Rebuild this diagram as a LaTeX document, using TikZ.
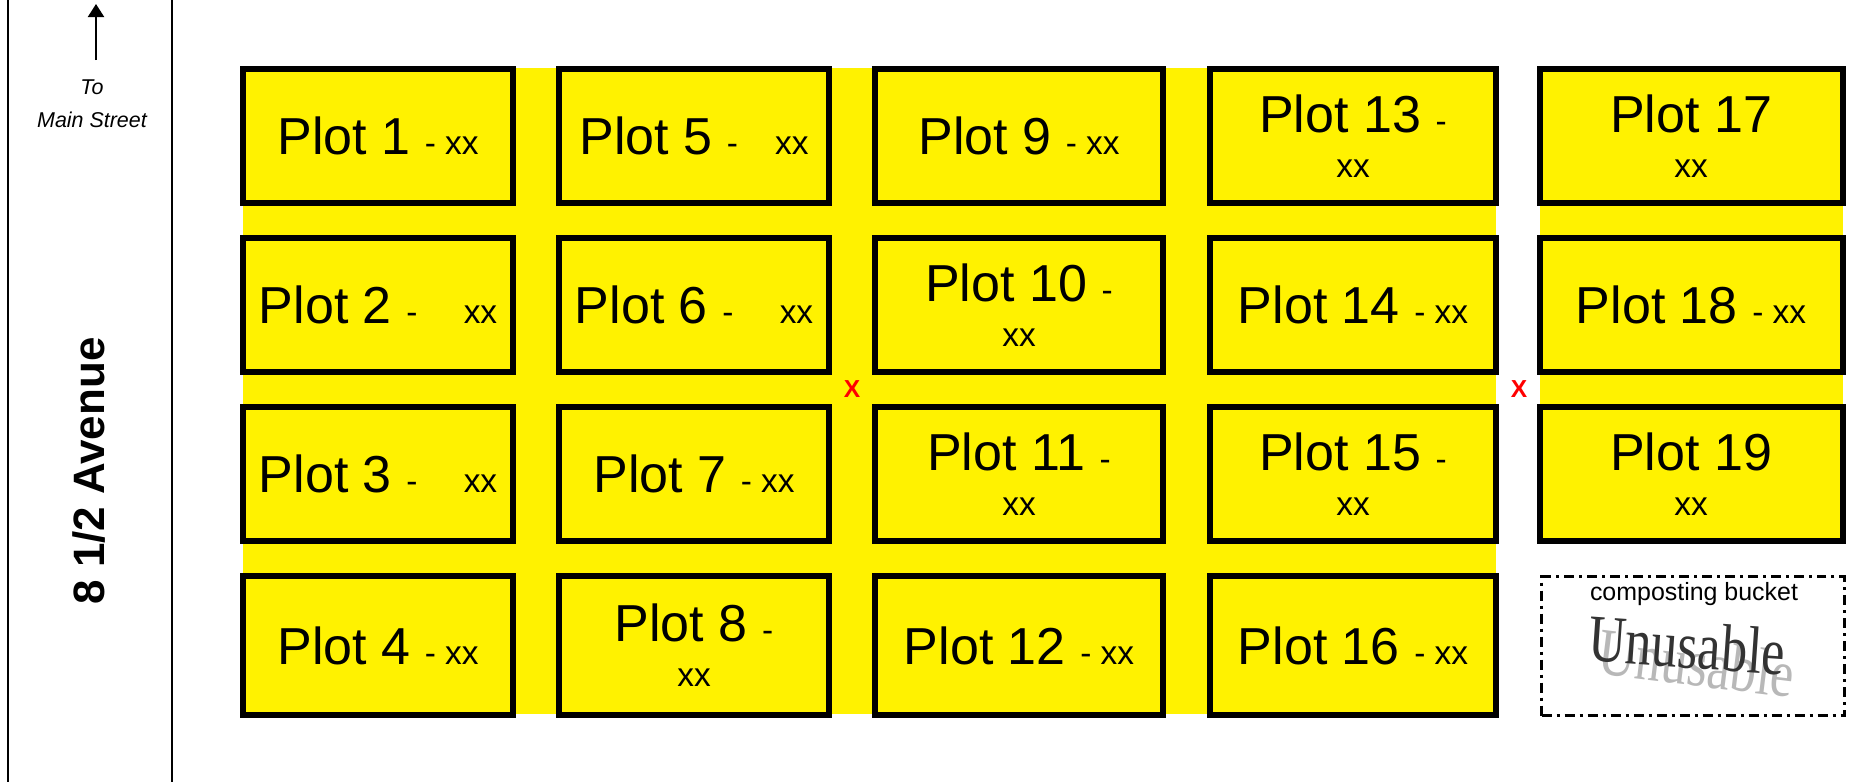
\documentclass[tikz,border=0pt]{standalone}
\usepackage{fontspec}
\setmainfont{Liberation Sans}
\newfontfamily\wordart[FakeStretch=0.78]{Liberation Serif}
\usetikzlibrary{arrows.meta,positioning}
\newcommand{\bigtxt}{\fontsize{29.6pt}{25.6pt}\selectfont}
\newcommand{\smtxt}{\fontsize{19pt}{22pt}\selectfont}

\begin{document}
\begin{tikzpicture}[x=0.02cm, y=-0.02cm, node distance=0.58cm,
plotbox/.style={rectangle,draw,line width=0.12cm,fill=yellow,inner sep=0pt,minimum height=2.68cm,align=center,font=\bigtxt},
wide/.style={minimum width=#1},
street/.style={line width=0.04cm},
redx/.style={text=red,font=\bfseries\fontsize{14pt}{14pt}\selectfont},
wordtxt/.style={font=\wordart\fontsize{38pt}{38pt}\selectfont}]

\useasboundingbox (0,0) rectangle (1851,782);

% yellow ground under the plots
\fill[yellow] (243,68) rectangle (1496,714);
\fill[yellow] (1540,68) rectangle (1843,540);

\draw[street] (8,0) -- (8,782);
\draw[street] (172,0) -- (172,782);
\node[font=\bfseries\fontsize{25pt}{25pt}\selectfont, rotate=90] (ave) at (89,471) {8 1/2 Avenue};
\node[font=\itshape\fontsize{12.2pt}{18.8pt}\selectfont, align=center] (tomain) at (92,104) {To\\Main Street};
\coordinate (arrowfoot) at (96,60);
\coordinate (arrowtip) at (96,4);
\draw[street,-{Triangle[width=0.32cm,length=0.26cm]}] (arrowfoot) -- (arrowtip);

\node[plotbox, wide=5.4cm] (p1) at (378,136) {Plot 1 {\smtxt - xx}};
\node[plotbox, wide=5.4cm, below=of p1] (p2) {Plot 2 {\smtxt -~~~~~xx}};
\node[plotbox, wide=5.4cm, below=of p2] (p3) {Plot 3 {\smtxt -~~~~~xx}};
\node[plotbox, wide=5.4cm, minimum height=2.78cm, below=of p3] (p4) {Plot 4 {\smtxt - xx}};

\node[plotbox, wide=5.4cm] (p5) at (694,136) {Plot 5 {\smtxt -~~~~xx}};
\node[plotbox, wide=5.4cm, below=of p5] (p6) {Plot 6 {\smtxt -~~~~~xx}};
\node[plotbox, wide=5.4cm, below=of p6] (p7) {Plot 7 {\smtxt - xx}};
\node[plotbox, wide=5.4cm, minimum height=2.78cm, below=of p7] (p8) {Plot 8 {\smtxt -}\\{\smtxt xx}};

\node[plotbox, wide=5.76cm] (p9) at (1019,136) {Plot 9 {\smtxt - xx}};
\node[plotbox, wide=5.76cm, below=of p9] (p10) {Plot 10 {\smtxt -}\\{\smtxt xx}};
\node[plotbox, wide=5.76cm, below=of p10] (p11) {Plot 11 {\smtxt -}\\{\smtxt xx}};
\node[plotbox, wide=5.76cm, minimum height=2.78cm, below=of p11] (p12) {Plot 12 {\smtxt - xx}};

\node[plotbox, wide=5.72cm] (p13) at (1353,136) {Plot 13 {\smtxt -}\\{\smtxt xx}};
\node[plotbox, wide=5.72cm, below=of p13] (p14) {Plot 14 {\smtxt - xx}};
\node[plotbox, wide=5.72cm, below=of p14] (p15) {Plot 15 {\smtxt -}\\{\smtxt xx}};
\node[plotbox, wide=5.72cm, minimum height=2.78cm, below=of p15] (p16) {Plot 16 {\smtxt - xx}};

\node[plotbox, wide=6.06cm] (p17) at (1691,136) {Plot 17\\{\smtxt xx}};
\node[plotbox, wide=6.06cm, below=of p17] (p18) {Plot 18 {\smtxt - xx}};
\node[plotbox, wide=6.06cm, below=of p18] (p19) {Plot 19\\{\smtxt xx}};

\node[redx] (gapa) at (852,389) {X};
\node[redx] (gapb) at (1519,389) {X};

\node[draw, line width=0.06cm, dash pattern=on 0.2cm off 0.1cm on 0.06cm off 0.1cm, minimum width=6.06cm, minimum height=2.78cm] (bucket) at (1693,646) {};
\node[font=\fontsize{14.2pt}{16pt}\selectfont] (comp) at (1694,594) {composting bucket};
\node[wordtxt, text=black!28, rotate=-7] (unshade) at (1697,663) {Unusable};
\node[wordtxt, text=black!80, rotate=-4] (unusable) at (1687,645) {Unusable};
\end{tikzpicture}
\end{document}
